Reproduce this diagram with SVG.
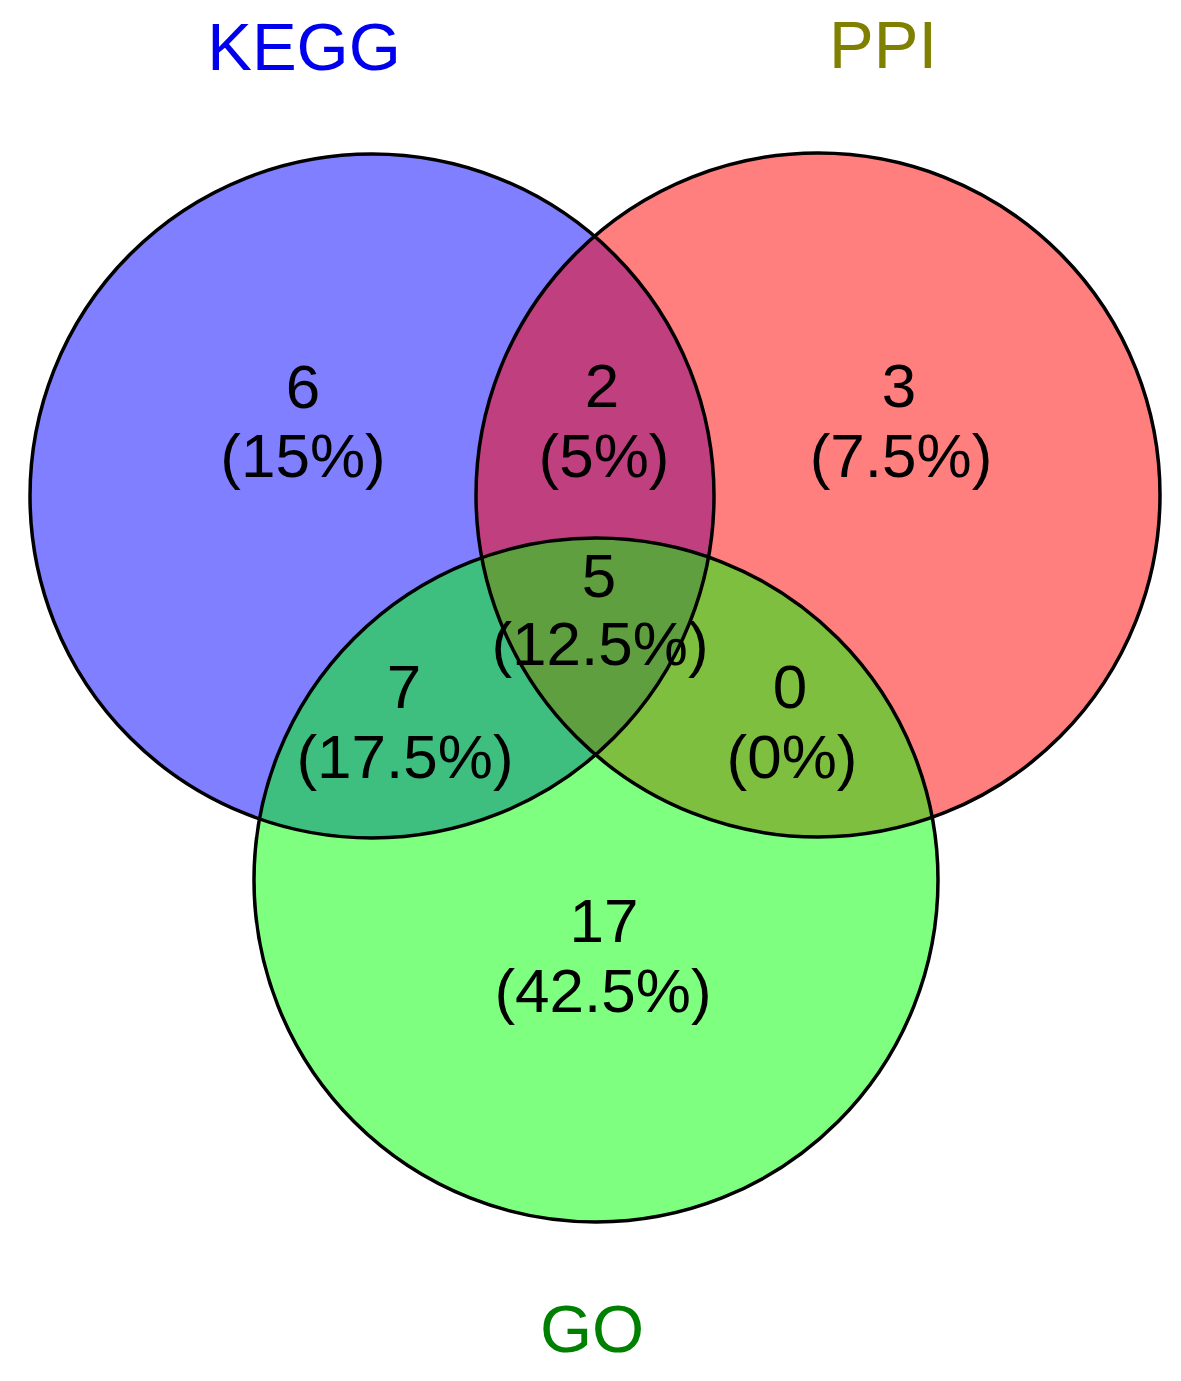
<svg xmlns="http://www.w3.org/2000/svg" xmlns:xlink="http://www.w3.org/1999/xlink" width="1181" height="1381" viewBox="0 0 1181 1381">
  <style>
    .lbl { font-family: "Liberation Sans", Arial, sans-serif; font-size: 62px; fill: #000; text-anchor: middle; }
    .title { font-family: "Liberation Sans", Arial, sans-serif; font-size: 67px; text-anchor: middle; }
    .fill { fill-opacity: 0.5; stroke: none; }
    .outline { fill: none; stroke: #000; stroke-width: 3.5; }
  </style>
  <defs>
    <circle id="c-kegg" cx="372" cy="496" r="342"/>
    <circle id="c-ppi" cx="818" cy="495" r="342"/>
    <circle id="c-go" cx="596" cy="880" r="342"/>
  </defs>
  <rect width="1181" height="1381" fill="#fff"/>
  <g id="kegg">
    <use xlink:href="#c-kegg" class="fill" fill="#0000FF"/>
    <text class="title" x="304" y="70" fill="#0000EE">KEGG</text>
  </g>
  <g id="ppi">
    <use xlink:href="#c-ppi" class="fill" fill="#FF0000"/>
    <text class="title" x="883" y="68" fill="#808000">PPI</text>
  </g>
  <g id="go">
    <use xlink:href="#c-go" class="fill" fill="#00FF00"/>
    <text class="title" x="592" y="1352" fill="#008000">GO</text>
  </g>
  <g id="outlines">
    <use xlink:href="#c-kegg" class="outline"/>
    <use xlink:href="#c-ppi" class="outline"/>
    <use xlink:href="#c-go" class="outline"/>
  </g>
  <g id="counts">
    <text class="lbl" x="303" y="408">6</text>
    <text class="lbl" x="303" y="477">(15%)</text>
    <text class="lbl" x="602" y="407">2</text>
    <text class="lbl" x="604" y="477">(5%)</text>
    <text class="lbl" x="899" y="407">3</text>
    <text class="lbl" x="901" y="477">(7.5%)</text>
    <text class="lbl" x="599" y="597">5</text>
    <text class="lbl" x="600" y="665">(12.5%)</text>
    <text class="lbl" x="404" y="708">7</text>
    <text class="lbl" x="405" y="778">(17.5%)</text>
    <text class="lbl" x="790" y="708">0</text>
    <text class="lbl" x="792" y="778">(0%)</text>
    <text class="lbl" x="604" y="942">17</text>
    <text class="lbl" x="603" y="1012">(42.5%)</text>
  </g>
</svg>
